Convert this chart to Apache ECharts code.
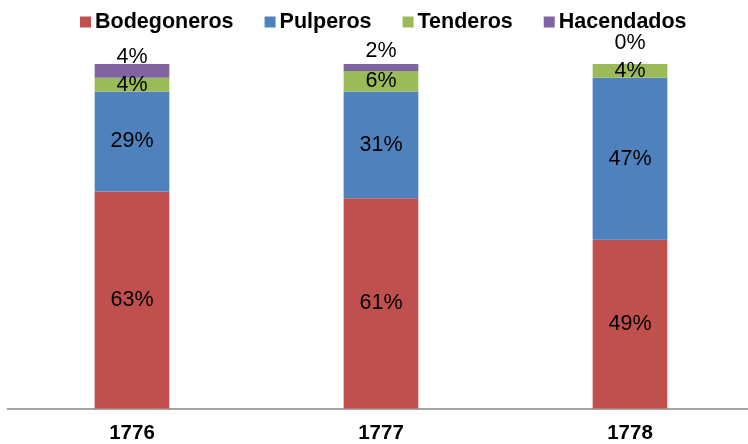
<!DOCTYPE html>
<html><head><meta charset="utf-8">
<script src="https://cdn.jsdelivr.net/npm/echarts@6/dist/echarts.min.js"></script>
<style>html,body{margin:0;padding:0;background:#fff}#c{width:748px;height:444px}</style>
</head><body><div id="c"></div>
<script>
var categories = ['1776', '1777', '1778'];
var bodegoneros = [63, 61, 49];
var pulperos = [29, 31, 47];
var tenderos = [4, 6, 4];
var hacendados = [4, 2, 0];

var purpleLabelDistance = [-4.5, 1.5, 9.5];
var font = 'Liberation Sans, Arial, sans-serif';
var chart = echarts.init(document.getElementById('c'));
function mk(name, data, color, lbl) {
  return {
    name: name, type: 'bar', stack: 'a', data: data, barWidth: '30%',
    itemStyle: { color: color },
    label: Object.assign({ show: true, position: 'inside', formatter: '{c}%', color: '#000', fontSize: 21.5, fontFamily: font }, lbl || {})
  };
}
var purple = mk('Hacendados', hacendados.map(function (v, i) {
  return { value: v, label: { distance: purpleLabelDistance[i] } };
}), '#8064A2', { position: 'top' });
chart.setOption({
  animation: false,
  legend: {
    top: 6, left: 75, itemWidth: 11, itemHeight: 11, itemGap: 31,
    icon: 'rect',
    textStyle: { fontFamily: font, fontWeight: 'bold', fontSize: 21.5, color: '#000', padding: [0, 0, 0, -1] },
    data: ['Bodegoneros', 'Pulperos', 'Tenderos', 'Hacendados']
  },
  grid: { left: 7.5, width: 747, top: 64, height: 344.5, outerBoundsMode: 'none', containLabel: false },
  xAxis: {
    type: 'category', data: categories,
    axisLine: { lineStyle: { color: '#888', width: 1.5 } },
    axisTick: { show: false },
    axisLabel: { fontFamily: font, fontWeight: 'bold', fontSize: 20.5, color: '#000', margin: 14 }
  },
  yAxis: { type: 'value', min: 0, max: 100, show: false, splitLine: { show: false } },
  series: [
    mk('Bodegoneros', bodegoneros, '#C0504D'),
    mk('Pulperos', pulperos, '#4F81BD'),
    mk('Tenderos', tenderos, '#9BBB59'),
    purple
  ]
});
</script></body></html>
